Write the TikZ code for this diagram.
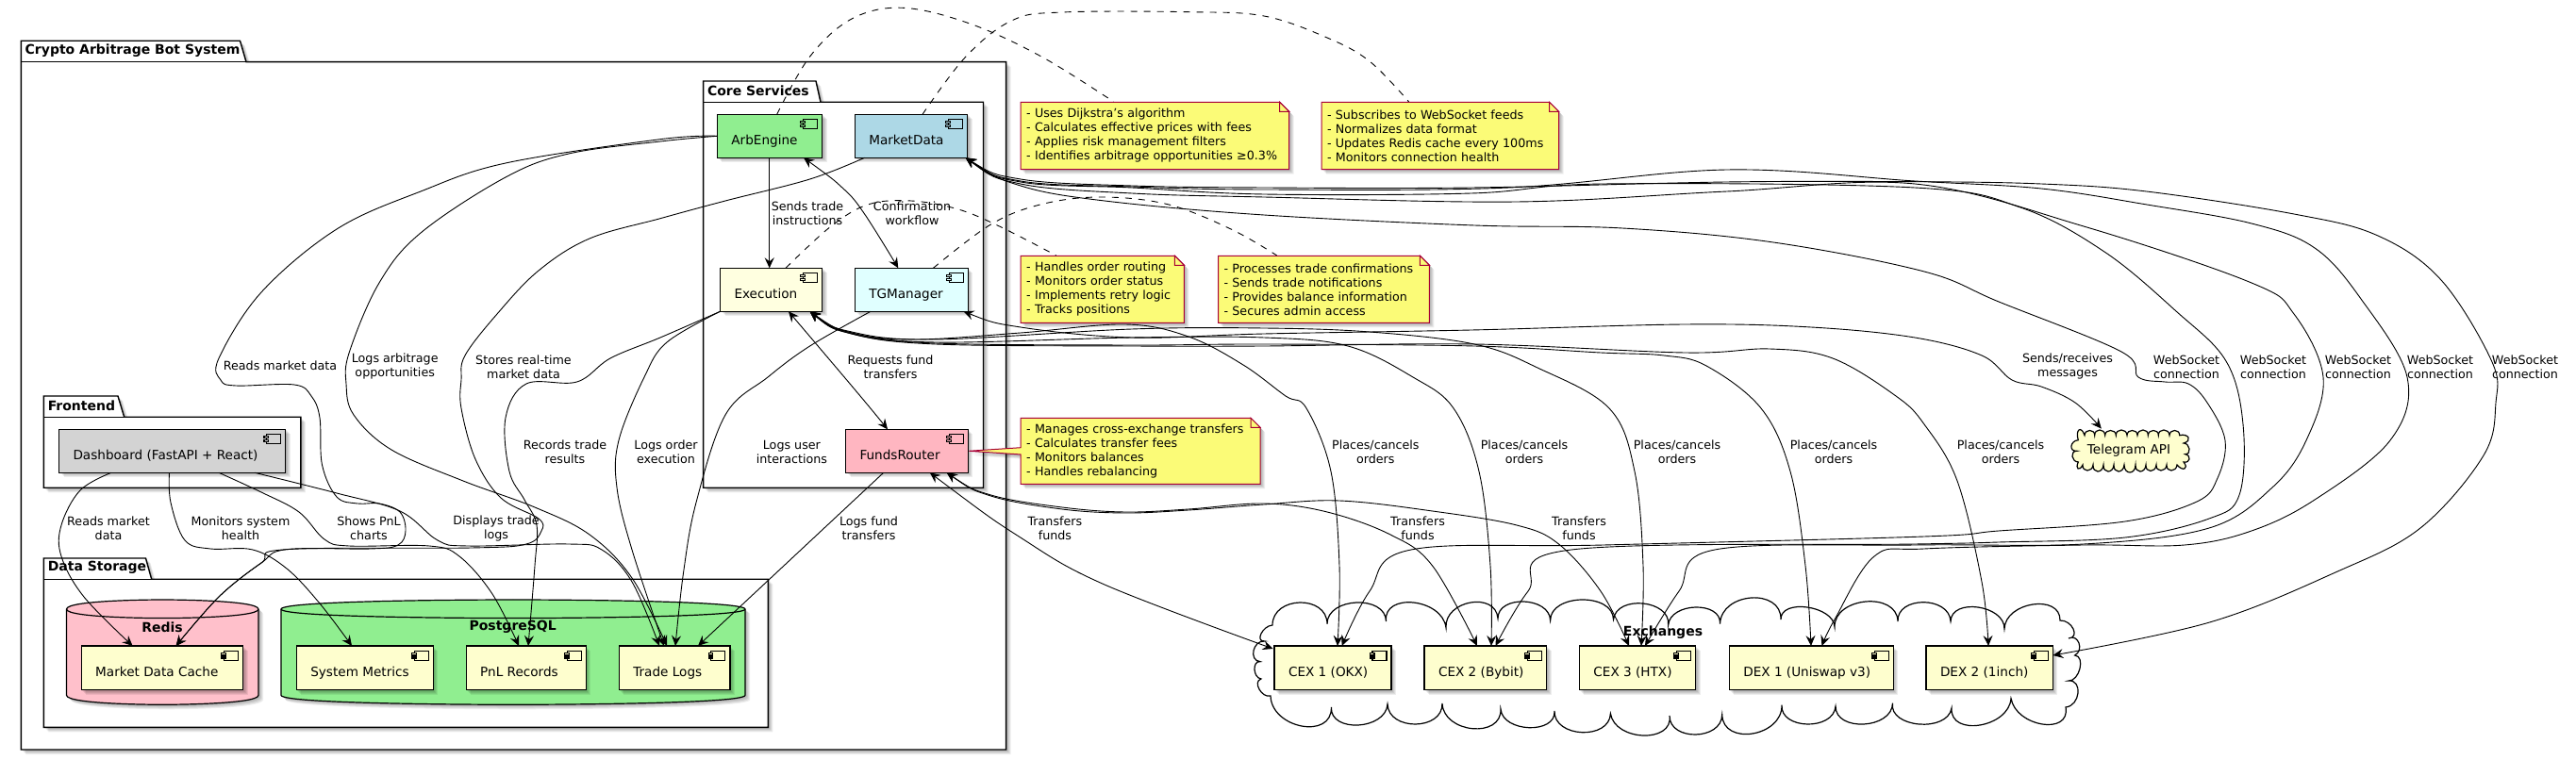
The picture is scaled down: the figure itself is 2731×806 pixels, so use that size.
\documentclass[tikz,border=0pt]{standalone}
\usepackage{fontspec}
\setmainfont{DejaVu Sans}
\usetikzlibrary{calc,arrows.meta}
\definecolor{noteY}{HTML}{FBFB77}
\definecolor{noteB}{HTML}{A80036}
\definecolor{compY}{HTML}{FEFECE}
\definecolor{cArb}{HTML}{90EE90}
\definecolor{cMkt}{HTML}{ADD8E6}
\definecolor{cExe}{HTML}{FFFFE0}
\definecolor{cTg}{HTML}{E0FFFF}
\definecolor{cFund}{HTML}{FFB6C1}
\definecolor{cDash}{HTML}{D3D3D3}
\definecolor{cRed}{HTML}{FFC0CB}
\tikzset{
  compbox/.style={draw=black,line width=.7pt,inner sep=0pt,outer sep=0pt,font=\fontsize{6.8pt}{8pt}\selectfont},
  iconline/.style={draw=black,line width=.55pt},
  pkgline/.style={draw=black,line width=.7pt,fill=white,line join=miter},
  pkgtitle/.style={font=\bfseries\fontsize{7pt}{8.15pt}\selectfont,inner sep=0pt},
  dbline/.style={draw=black,line width=.6pt},
  lbl/.style={font=\fontsize{6.35pt}{7.5pt}\selectfont,align=center,inner sep=0pt},
  notetxt/.style={font=\fontsize{6.35pt}{7.5pt}\selectfont,align=left,inner ysep=0pt,inner xsep=3pt},
  noteline/.style={draw=noteB,line width=.5pt,fill=noteY},
  edge/.style={draw=black,line width=.45pt,smooth,tension=.6},
  arr/.style={edge,-{Stealth[length=5.5pt,width=5pt,inset=2pt]}},
  barr/.style={edge,{Stealth[length=5.5pt,width=5pt,inset=2pt]}-{Stealth[length=5.5pt,width=5pt,inset=2pt]}},
  dashln/.style={draw=black,line width=.45pt,smooth,tension=.6,dash pattern=on 3.5pt off 3.5pt},
}
\newcommand\Shadow[1]{\foreach \s in {1,2,3,4,5}{\fill[black,opacity=.07,shift={(\s,\s)}] #1;}}
\newcommand\Comp[7]{%
  \pgfmathsetmacro\cw{#4-(#2)}\pgfmathsetmacro\ch{#5-(#3)}%
  \pgfmathsetmacro\cwh{\cw/2}%
  \Shadow{(#2,#3) rectangle (#4,#5)}%
  \node[compbox,fill=#6,minimum width=\cwh pt,minimum height=\ch*0.5pt] (#1) at ({(#2+#4)/2},{(#3+#5)/2})
    {\makebox[\cwh pt][l]{\hspace{7.5pt}\smash{\raisebox{-4.7pt}{#7}}}};
  \draw[iconline,fill=#6] ($(#1.north east)+(-20,5.3)$) rectangle +(15,10);
  \draw[iconline,fill=#6] ($(#1.north east)+(-22.7,7.3)$) rectangle +(4.7,2);
  \draw[iconline,fill=#6] ($(#1.north east)+(-22.7,11)$) rectangle +(4.7,2);
}
\newcommand\Pkg[9]{%
  \Shadow{(#2,#3) -- (#4,#3) -- (#5,#6) -- (#7,#6) -- (#7,#8) -- (#2,#8) -- cycle}%
  \draw[pkgline] (#2,#3) -- (#4,#3) -- (#5,#6) -- (#7,#6) -- (#7,#8) -- (#2,#8) -- cycle;
  \draw[pkgline] (#2,#6) -- (#5,#6);
  \node[pkgtitle,anchor=west] (#1) at ({#2+4},{(#3+#6)/2-1}) {#9};
}
\newcommand\Db[6]{%
  \def\dbt{(#2,646) .. controls (#2,636) and ({(#2+#3)/2},636) .. ({(#2+#3)/2},636) .. controls ({(#2+#3)/2},636) and (#3,636) .. (#3,646) -- (#3,737.3) .. controls (#3,747.3) and ({(#2+#3)/2},747.3) .. ({(#2+#3)/2},747.3) .. controls ({(#2+#3)/2},747.3) and (#2,747.3) .. (#2,737.3) -- cycle}%
  \Shadow{\dbt}%
  \draw[dbline,fill=#4] \dbt;
  \draw[dbline] (#2,646) .. controls (#2,655.6) and ({(#2+#3)/2},655.6) .. ({(#2+#3)/2},655.6) .. controls ({(#2+#3)/2},655.6) and (#3,655.6) .. (#3,646);
  \node[pkgtitle] (#1) at (#5,665) {#6};
}
% cloud: start, list of apexX/apexY/cuspX/cuspY
\newcommand\CloudP[4]{%
  \xdef\cloudp{(#1,#2)}\xdef\cpx{#1}\xdef\cpy{#2}%
  \foreach \ax/\ay/\bx/\by in {#3}{%
    \pgfmathsetmacro\dx{4/3*(\ax-(\cpx+\bx)/2)}%
    \pgfmathsetmacro\dy{4/3*(\ay-(\cpy+\by)/2)}%
    \pgfmathsetmacro\cax{\cpx+\dx}\pgfmathsetmacro\cay{\cpy+\dy}%
    \pgfmathsetmacro\cbx{\bx+\dx}\pgfmathsetmacro\cby{\by+\dy}%
    \xdef\cloudp{\cloudp .. controls (\cax,\cay) and (\cbx,\cby) .. (\bx,\by)}%
    \xdef\cpx{\bx}\xdef\cpy{\by}%
  }%
  \edef\cmd{\noexpand\draw[#4] \cloudp -- cycle;}\cmd
}
\newcommand\Note[7]{%
  \pgfmathsetmacro\nw{#4-(#2)}\pgfmathsetmacro\nh{#5-(#3)}%
  \pgfmathsetmacro\nwh{\nw/2-6}%
  \Shadow{(#2,#3) -- ({#4-10},#3) -- (#4,{#3+10}) -- (#4,#5) -- (#2,#5) #7 -- cycle}%
  \draw[noteline] (#2,#3) -- ({#4-10},#3) -- (#4,{#3+10}) -- (#4,#5) -- (#2,#5) #7 -- cycle;
  \draw[noteline] ({#4-10},#3) -- ({#4-10},{#3+10}) -- (#4,{#3+10}) -- cycle;
  \node[notetxt,text width=\nwh pt,minimum width=\nw*0.5pt,minimum height=\nh*0.5pt] (#1) at ({(#2+#4)/2},{(#3+#5)/2}) {#6};
}
\begin{document}
\begin{tikzpicture}[x=0.5pt,y=-0.5pt]
\fill[white] (0,0) rectangle (2731,806);
\useasboundingbox (0,0) rectangle (2731,806);

% packages
\Pkg{sys}{22.3}{43.3}{254.5}{261}{65.7}{1066.6}{795}{Crypto Arbitrage Bot System}
\Pkg{core}{745.6}{86}{865}{870}{108.3}{1042.5}{517.3}{Core Services}
\Pkg{front}{46.4}{420}{125}{131.7}{442.3}{318.8}{517.3}{Frontend}
\Pkg{store}{46.4}{592}{154.5}{160.7}{614.3}{814.4}{771.3}{Data Storage}

% databases
\Db{redis}{70.5}{274}{cRed}{172}{Redis}
\Db{postgres}{298}{790}{cArb}{543.7}{PostgreSQL}

% clouds
\CloudP{1349}{663}{1378/639/1407/661.7,1438/639/1469.5/659,1498.5/639/1533/665.7,1559/639/1588/656,1615.5/638/1643.6/658,1677/636/1710.5/657,1742/640/1768.6/663,1797.6/644/1823.5/661.7,1856.5/634/1888/657,1916/644/1945/665,1978/638/2012/659,2039/638.7/2068/659,2097/644/2125/667,2155/641/2184/658,2198/667/2193/677,2204/682/2199.6/695,2205/709/2193/722,2203/735/2190/750,2165/768/2132/740.7,2099/769/2069/751,2034.5/768/2006.5/745.7,1976/768/1946/749,1916/768/1889/747.7,1858/778/1825.7/758,1797.6/779/1770/759,1742/780/1707.4/756.7,1677/776.7/1648/754,1621/771.7/1591/752,1561/772.7/1529/746,1500.7/768/1471/746.7,1440/769/1411.4/750,1380/770/1347/738,1335/731/1337/720,1330/710/1336/701.7,1329/690/1340.7/680,1337/672/1349/663}{draw=black,line width=.6pt,fill=white}
\node[pkgtitle] (exch) at (1763,671) {Exchanges};
\CloudP{2203.3}{466.7}{2204/456/2210/461.7,2215.5/456.5/2220.7/461.7,2226/456/2231.7/461.7,2237.5/456.5/2243.3/461.7,2249/456/2255/461.7,2260.5/456.5/2266/461.7,2272/456/2277.3/461.7,2283/456.5/2288.3/461.7,2294/456/2300/461.7,2305.5/456.5/2310.7/461.7,2320/464/2315/470,2321/476/2316.7/481.7,2321/487/2315/490,2316/497/2308/493,2302/499/2297/493,2291/499/2286/493,2280/499.5/2275/493,2269/500/2264/493,2258/501/2252/493,2246/500/2241/493,2235/500/2230/493,2224/500/2219/493,2213/499/2208/493,2203/497/2203.3/490,2197/484/2201.7/478.3,2196/473/2203.3/466.7}{draw=black,line width=.6pt,fill=compY}
\node[font=\fontsize{6.8pt}{8pt}\selectfont,inner sep=0pt,minimum width=61.8pt,minimum height=23pt] (tele) at (2257,478) {Telegram API};

% components
\Comp{arb}{760.4}{121.3}{871.5}{167.3}{cArb}{ArbEngine}
\Comp{market}{906.3}{121.3}{1025.5}{167.3}{cMkt}{MarketData}
\Comp{exec}{763.5}{284.3}{871.5}{330.3}{cExe}{Execution}
\Comp{tg}{906.3}{284.3}{1026.4}{330.3}{cTg}{TGManager}
\Comp{funds}{896.5}{455.3}{1026.4}{501.3}{cFund}{FundsRouter}
\Comp{dash}{62.5}{455.3}{302.7}{501.3}{cDash}{Dashboard (FastAPI + React)}
\Comp{cache}{86.2}{685}{257.6}{731.7}{compY}{Market Data Cache}
\Comp{metrics}{314.3}{685}{459.4}{731.7}{compY}{System Metrics}
\Comp{pnl}{494.2}{685}{621.4}{731.7}{compY}{PnL Records}
\Comp{tlogs}{656.3}{685}{773.8}{731.7}{compY}{Trade Logs}
\Comp{cex1}{1351}{685}{1475}{731.7}{compY}{CEX 1 (OKX)}
\Comp{cex2}{1510}{685}{1639.6}{731.7}{compY}{CEX 2 (Bybit)}
\Comp{cex3}{1674.4}{685}{1797.6}{731.7}{compY}{CEX 3 (HTX)}
\Comp{dex1}{1833.3}{685}{2007.4}{731.7}{compY}{DEX 1 (Uniswap v3)}
\Comp{dex2}{2042}{685}{2176.4}{731.7}{compY}{DEX 2 (1inch)}

% notes
\Note{n1}{1082.2}{108.3}{1366.6}{179.7}{- Uses Dijkstra's algorithm\\- Calculates effective prices with fees\\- Applies risk management filters\\- Identifies arbitrage opportunities ≥0.3\%}{}
\Note{n2}{1401}{108.3}{1652.5}{179.7}{- Subscribes to WebSocket feeds\\- Normalizes data format\\- Updates Redis cache every 100ms\\- Monitors connection health}{}
\Note{n3}{1082.2}{271.3}{1255.4}{342.3}{- Handles order routing\\- Monitors order status\\- Implements retry logic\\- Tracks positions}{}
\Note{n4}{1291.6}{271.3}{1515.4}{342.3}{- Processes trade confirmations\\- Sends trade notifications\\- Provides balance information\\- Secures admin access}{}
\Note{n5}{1082.2}{443.3}{1336}{513.3}{- Manages cross-exchange transfers\\- Calculates transfer fees\\- Monitors balances\\- Handles rebalancing}{-- (1082.2,482) -- (1027.3,478.3) -- (1082.2,474.7)}

% dashed note links
\draw[dashln] plot coordinates {($(arb.north west)+(63.3,0)$) (858.6,60) (903,20) (957,8.3) (1028,25) (1104,60) ($(n1.north west)+(98.8,0)$)};
\draw[dashln] plot coordinates {($(market.north west)+(71.7,0)$) (1024,60) (1073,21.7) (1126,13) (1260,12.7) (1340,17) (1407,40) (1452,65) ($(n2.north west)+(93,0)$)};
\draw[dashln] plot coordinates {($(exec.north west)+(69.5,0)$) (881,240) (921,216.7) (966,213) (1015,221.7) (1059.5,240) ($(n3.north west)+(37.8,0)$)};
\draw[dashln] plot coordinates {($(tg.north west)+(83.1,0)$) (1050.5,238) (1104,216.7) (1166.6,209) (1238,216.7) (1305,243) ($(n4.north west)+(62.4,0)$)};

% ArbEngine edges
\draw[arr] plot coordinates {(arb.west) (700,147.7) (536,173) (446,203) (357,243) (277,310) (232,380) (234,403) (250,409) (312,408) (330,420) (339,443) (341.5,493) (357,527) (379,534) (402,534) (424,543) (430,563) (422,578) (393,582) (303.6,582.7) (277,597) (232,633) ($(cache.north west)+(100.4,0)$)};
\draw[arr] plot coordinates {(arb.west) (700,150) (603,163) (536,188) (446,247) (402,300) (370.5,373) (367,407) (375,440) (415,477) (491,510) (567,538) (625,567) (670,613) ($(tlogs.north west)+(50.7,0)$)};
\draw[arr] ($(arb.south west)+(55.3,0)$) -- ($(exec.north west)+(52.2,0)$);
\draw[barr] plot coordinates {($(arb.south west)+(91.6,0)$) (894,200) (916.6,227) ($(tg.north west)+(46,0)$)};

% MarketData -> cache
\draw[arr] plot coordinates {($(market.south west)+(10.3,0)$) (858.6,190) (769,213) (700,231.7) (625,253) (571,287) (527,333) (493,377) (489,403) (489,433) (504,487) (531,528) (571,550) (574,563) (558,577) (500,581) (303.6,582.7) (277,597) (232,633) ($(cache.north west)+(100.4,0)$)};

% Execution edges
\draw[arr] plot coordinates {(exec.south west) (700,358) (647,380) (611.6,405) (558,407) (536,443) (540,500) (556,530) (569,557) (567,600) ($(pnl.north west)+(65.8,0)$)};
\draw[arr] plot coordinates {(exec.south west) (707,363) (683,400) (656,467) (654,517) (670,583) ($(tlogs.north west)+(47.7,0)$)};
\draw[barr] plot coordinates {($(exec.south west)+(72.5,0)$) (912,420) ($(funds.north west)+(44.5,0)$)};
\draw[barr] plot coordinates {($(exec.south west)+(95.1,0)$) (903,353) (970,360) (1082,353) (1193,344) (1260,357) (1318,387) (1363,420) (1385,433) (1411,500) (1420,600) ($(cex1.north west)+(67,0)$)};
\draw[barr] plot coordinates {($(exec.south west)+(95.1,0)$) (903,353) (992,363) (1200,358) (1340,358) (1429,367) (1498,400) (1541,433) (1568,500) (1580,600) ($(cex2.north west)+(71,0)$)};
\draw[barr] plot coordinates {($(exec.south west)+(95.1,0)$) (903,352) (990,360) (1200,349) (1340,348) (1452,352) (1563,365) (1630,390) (1706,433) (1733,500) (1742,600) ($(cex3.north west)+(65.6,0)$)};
\draw[barr] plot coordinates {($(exec.south west)+(95.1,0)$) (903,354) (992,364) (1200,366) (1340,365) (1563,367) (1697,374) (1764,377) (1809,388) (1867,433) (1898,500) (1914,600) ($(dex1.north west)+(86.7,0)$)};
\draw[barr] plot coordinates {($(exec.south west)+(95.1,0)$) (903,354) (992,365) (1200,367) (1340,367) (1563,365) (1786,374) (1876,370) (1943,380) (2010,420) (2040,450) (2075,510) (2101,617) ($(dex2.north west)+(66,0)$)};

% TGManager edges
\draw[arr] plot coordinates {($(tg.south west)+(16.7,0)$) (858.6,367) (814,400) (769,440) (738,533) (724.6,607) ($(tlogs.north west)+(59.7,0)$)};
\draw[barr] plot coordinates {($(tg.south west)+(115.2,0)$) (1082,347) (1200,358) (1340,354) (1560,350) (1786,344) (1920,347) (2030,358) (2101,377) (2133,403) (2164,410) (2200,427) ($(tele.north west)+(33,0)$)};

% FundsRouter edges
\draw[arr] ($(funds.south west)+(40.2,0)$) -- ($(tlogs.north west)+(83.7,0)$);
\draw[barr] plot coordinates {($(funds.south west)+(89.3,0)$) (1081.8,570) (1171,620) ($(cex1.north west)+(-1.4,3)$)};
\draw[barr] plot coordinates {($(funds.south west)+(107.2,0)$) (1050.5,525) (1126,538) (1193,543) (1260,540) (1340,534) (1407,543) (1474,567) (1518.6,600) ($(cex2.north west)+(56,0)$)};
\draw[barr] plot coordinates {($(funds.south west)+(107.2,0)$) (1050.5,526) (1126,540) (1193,544) (1260,541) (1340,535) (1420,531) (1518.6,542) (1608,557) (1652.5,577) (1697,627) ($(cex3.north west)+(52.6,0)$)};

% Dashboard edges
\draw[arr] plot coordinates {($(dash.south west)+(55.5,0)$) (85,520) (65,557) (65,590) (89,633) ($(cache.north west)+(54.4,0)$)};
\draw[arr] plot coordinates {($(dash.south west)+(117,0)$) (181,533) (196,573) (223,582) (268,583) (304,603) (339,640) ($(metrics.north west)+(58.7,0)$)};
\draw[arr] plot coordinates {($(dash.south west)+(169.5,0)$) (277,522) (317,543) (344,572) (370,579) (455,579) (487,590) (522,630) ($(pnl.north west)+(55.8,0)$)};
\draw[arr] plot coordinates {($(dash.south west)+(207.5,0)$) (357,523) (424,542) (464,573) (495.5,579) (603,577) (638,583) (670,617) ($(tlogs.north west)+(42.7,0)$)};

% MarketData WebSocket edges
\draw[barr] plot coordinates {($(market.south west)+(117.4,0)$) (1082,197) (1171,213) (1340,228) (1563,239) (1720,242) (1880,257) (2040,288) (2119,320) (2249,373) (2267,400) (2295,405) (2320,407) (2340,427) (2359,467) (2351,507) (2329,532) (2253,553) (2119,563) (2040,569) (1700,578) (1496,583) (1452,627) ($(cex1.north west)+(71.6,0)$)};
\draw[barr] plot coordinates {($(market.south west)+(117.4,0)$) (1082,193) (1200,199) (1340,206) (1560,205) (1700,195) (2030,199) (2142,220) (2231,267) (2307,330) (2360,383) (2378,450) (2374,525) (2342,550) (2253,570) (2119,575) (2030,577) (1666,583) (1620,627) ($(cex2.north west)+(75.5,0)$)};
\draw[barr] plot coordinates {($(market.south west)+(117.4,0)$) (1082,195) (1200,205) (1340,209) (1608,214) (1831,203) (2030,195) (2209,240) (2387,300) (2432,333) (2463,400) (2445,467) (2409,517) (2342,560) (2209,577) (2030,578) (1818,583) (1780,627) ($(cex3.north west)+(69.6,0)$)};
\draw[barr] plot coordinates {($(market.south west)+(117.4,0)$) (1082,192) (1200,198) (1340,201) (1600,199) (1831,180) (2030,192) (2164,200) (2276,217) (2387,237) (2454,263) (2503,317) (2552,400) (2534,467) (2454,530) (2387,563) (2316,578) (2209,578) (2040,582) (1987,590) (1945,657) ($(dex1.north west)+(98.2,0)$)};
\draw[barr] plot coordinates {($(market.south west)+(117.4,0)$) (1082,190) (1200,197) (1340,199) (1560,199) (1830,193) (2030,192.7) (2164,195) (2275.5,203) (2432,227) (2521,250) (2588,297) (2641.6,383) (2646,427) (2633,483) (2566,560) (2476,607) (2342.5,660) ($(dex2.north east)+(0,10)$)};

% labels
\node[lbl] (l1) at (297,388) {Reads market data};
\node[lbl] (l2) at (418.7,389) {Logs arbitrage\\opportunities};
\node[lbl] (l3) at (555,389) {Stores real-time\\market data};
\node[lbl] (l4) at (856,226) {Sends trade\\instructions};
\node[lbl] (l5) at (967,226) {Confirmation\\workflow};
\node[lbl] (l6) at (944,389) {Requests fund\\transfers};
\node[lbl] (l7) at (599,479) {Records trade\\results};
\node[lbl] (l8) at (706,479) {Logs order\\execution};
\node[lbl] (l9) at (839.4,479) {Logs user\\interactions};
\node[lbl] (l10) at (1458.3,479) {Places/cancels\\orders};
\node[lbl] (l11) at (1616,479) {Places/cancels\\orders};
\node[lbl] (l12) at (1778,479) {Places/cancels\\orders};
\node[lbl] (l13) at (1944,479) {Places/cancels\\orders};
\node[lbl] (l14) at (2121,479) {Places/cancels\\orders};
\node[lbl] (l15) at (1118.4,560) {Transfers\\funds};
\node[lbl] (l16) at (1503,560) {Transfers\\funds};
\node[lbl] (l17) at (1674,560) {Transfers\\funds};
\node[lbl] (l18) at (921,560) {Logs fund\\transfers};
\node[lbl] (l19) at (115,560) {Reads market\\data};
\node[lbl] (l20) at (255,560) {Monitors system\\health};
\node[lbl] (l21) at (391,560) {Shows PnL\\charts};
\node[lbl] (l22) at (526,560) {Displays trade\\logs};
\node[lbl] (l23) at (2192,389) {Sends/receives\\messages};
\node[lbl] (l24) at (2318,389) {WebSocket\\connection};
\node[lbl] (l25) at (2410,389) {WebSocket\\connection};
\node[lbl] (l26) at (2500,389) {WebSocket\\connection};
\node[lbl] (l27) at (2587,389) {WebSocket\\connection};
\node[lbl] (l28) at (2677,389) {WebSocket\\connection};
\end{tikzpicture}
\end{document}
